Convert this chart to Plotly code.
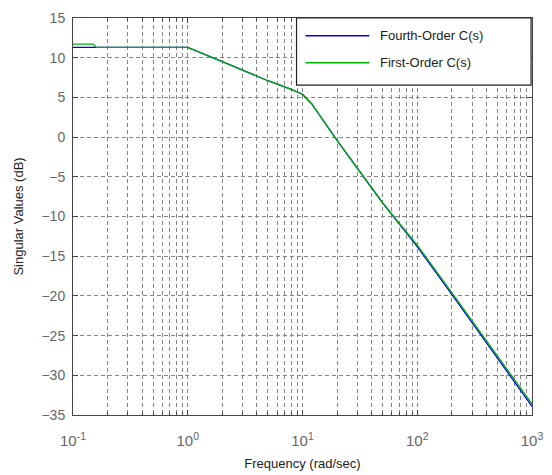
import plotly.graph_objects as go

# Data
freq_fourth = [0.1, 0.8, 1.0, 2.0, 5.0, 8.0, 10.0, 12.0, 20.0, 50.0, 100.0, 200.0, 500.0, 1000.0]
sv_fourth = [11.3, 11.3, 11.3, 9.5, 7.1, 6.0, 5.4, 4.2, -0.4, -8.3, -13.8, -19.8, -27.8, -33.9]
freq_first = [0.1, 0.15, 0.16, 0.8, 1.0, 2.0, 5.0, 8.0, 10.0, 12.0, 20.0, 50.0, 100.0, 200.0, 500.0, 1000.0]
sv_first = [11.7, 11.7, 11.3, 11.3, 11.3, 9.5, 7.1, 6.0, 5.4, 4.2, -0.4, -8.3, -13.6, -19.6, -27.6, -33.6]

x_tickvals = [0.1, 1, 10, 100, 1000]
x_ticktext = ["10<sup>-1</sup>", "10<sup>0</sup>", "10<sup>1</sup>", "10<sup>2</sup>", "10<sup>3</sup>"]
x_minorvals = [m * d for d in [0.1, 1, 10, 100] for m in range(2, 10)]
y_tickvals = [-35, -30, -25, -20, -15, -10, -5, 0, 5, 10, 15]

series_names = ["Fourth-Order C(s)", "First-Order C(s)"]
series_colors = ["#0000ff", "#00b000"]

fig = go.Figure()
fig.add_trace(go.Scatter(x=freq_fourth, y=sv_fourth, mode="lines",
                         line=dict(color=series_colors[0], width=1.3), name=series_names[0]))
fig.add_trace(go.Scatter(x=freq_first, y=sv_first, mode="lines",
                         line=dict(color=series_colors[1], width=1.3), name=series_names[1]))

grid_col = "#858585"
font_fam = "Liberation Sans, Arial"
fig.update_xaxes(type="log", range=[-1, 3], tickvals=x_tickvals, ticktext=x_ticktext,
                 automargin=False,
                 showgrid=True, gridcolor=grid_col, griddash="4px,3px", gridwidth=1,
                 ticks="inside", ticklen=5, tickcolor="#444", mirror="allticks",
                 showline=True, linecolor="#444", linewidth=1, zeroline=False,
                 minor=dict(tickmode="array", tickvals=x_minorvals, showgrid=True,
                            gridcolor=grid_col, griddash="4px,3px", gridwidth=1,
                            ticks="inside", ticklen=3, tickcolor="#444"),
                 ticklabelstandoff=12,
                 tickfont=dict(family=font_fam, size=15, color="#666"),
                 title=dict(text="Frequency (rad/sec)", standoff=10,
                            font=dict(family=font_fam, size=13, color="#222")))
fig.update_yaxes(range=[-35, 15], tickvals=y_tickvals, automargin=False,
                 showgrid=True, gridcolor=grid_col, griddash="4px,3px", gridwidth=1,
                 ticks="inside", ticklen=5, tickcolor="#444", mirror="allticks",
                 showline=True, linecolor="#444", linewidth=1, zeroline=False,
                 ticklabelstandoff=4,
                 tickfont=dict(family=font_fam, size=14, color="#666"),
                 title=dict(text="Singular Values (dB)", standoff=14,
                            font=dict(family=font_fam, size=13, color="#222")))

# Manual MATLAB-style legend
shapes = [dict(type="rect", xref="paper", yref="paper", x0=0.487, x1=0.998, y0=0.831, y1=1.0,
               line=dict(color="#222", width=1.2), fillcolor="white", layer="above")]
annotations = []
for i, (nm, col) in enumerate(zip(series_names, series_colors)):
    yy = 0.955 - i * 0.068
    shapes.append(dict(type="line", xref="paper", yref="paper", x0=0.5065, x1=0.6457, y0=yy, y1=yy,
                       line=dict(color=col, width=1.5), layer="above"))
    annotations.append(dict(xref="paper", yref="paper", x=0.665, y=yy, text=nm, showarrow=False,
                            xanchor="left", yanchor="middle",
                            font=dict(family=font_fam, size=13, color="#222")))

fig.update_layout(width=552, height=475, margin=dict(l=73, r=20, t=18, b=60),
                  paper_bgcolor="white", plot_bgcolor="white", showlegend=False,
                  shapes=shapes, annotations=annotations)
fig.write_html("out.html")
